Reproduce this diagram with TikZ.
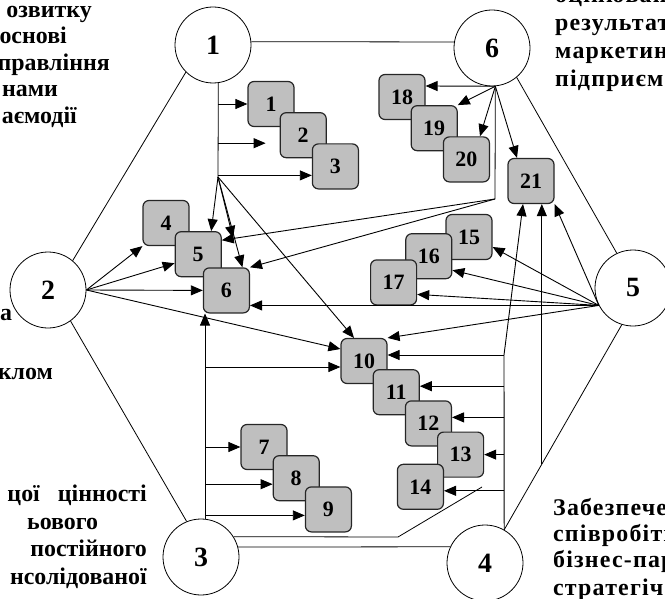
\documentclass[tikz,border=0pt]{standalone}
\usepackage{fontspec}
\setmainfont{Liberation Serif}
\newfontfamily\widefont[LetterSpace=5]{Liberation Serif}
\usepackage{tikz}
\usetikzlibrary{arrows.meta,positioning,calc}
\tikzstyle{hub} = [circle, draw=black, line width=0.8bp, minimum size=76bp, inner sep=0pt, font=\fontsize{28}{28}\selectfont\bfseries]
\tikzstyle{cell} = [rectangle, rounded corners=6bp, draw=black!85, line width=1.2bp, fill=gray!50, minimum width=46bp, minimum height=45bp, inner sep=0pt, font=\fontsize{22}{22}\selectfont\bfseries]
\tikzstyle{arrow} = [-{Triangle[length=12bp,width=10bp]}, line width=0.9bp]
\tikzstyle{rim} = [line width=0.8bp]
\tikzstyle{frag} = [inner sep=0pt, font=\fontsize{24}{26}\selectfont\bfseries]
\tikzstyle{fragwide} = [inner sep=0pt, font=\fontsize{24}{26}\widefont\bfseries]

\begin{document}
\begin{tikzpicture}[x=1bp, y=-1bp]
\useasboundingbox (0,0) rectangle (665,599);

% six circles
\node[hub] (c1) at (213,45) {1};
\node[hub] (c6) at (492,48) {6};
\node[hub] (c2) at (48,290) {2};
\node[hub] (c5) at (633,288) {5};
\node[hub] (c3) at (201,557) {3};
\node[hub] (c4) at (485,563) {4};
\draw[rim] (c1.5) -- (c6.171);
\draw[rim] (c1.225) -- (c2.50);
\draw[rim] (c2.-54) -- (c3.112);
\draw[rim] (c3.15) -- (c4.155);
\draw[rim] (c4.60) -- (c5.-107);
\draw[rim] (c5.115) -- (c6.-50);

% boxes
\node[cell] (b1) at (271,104) {1};
\node[cell, below right=-15bp and -15bp of b1] (b2) {2};
\node[cell, below right=-15bp and -15bp of b2] (b3) {3};
\node[cell] (b4) at (166,223) {4};
\node[cell, below right=-15bp and -15bp of b4] (b5) {5};
\node[cell, below right=-10bp and -19bp of b5] (b6) {6};
\node[cell] (b7) at (264,447) {7};
\node[cell, below right=-15bp and -15bp of b7] (b8) {8};
\node[cell, below right=-15bp and -15bp of b8] (b9) {9};
\node[cell] (b10) at (364,361) {10};
\node[cell, below right=-15bp and -15bp of b10] (b11) {11};
\node[cell, below right=-15bp and -15bp of b11] (b12) {12};
\node[cell, below right=-15bp and -15bp of b12] (b13) {13};
\node[cell, below left=-14bp and -7bp of b13] (b14) {14};
\node[cell] (b15) at (469,237) {15};
\node[cell, below left=-27bp and -7bp of b15] (b16) {16};
\node[cell, below left=-20bp and -12bp of b16] (b17) {17};
\node[cell] (b18) at (402,97) {18};
\node[cell, below right=-15bp and -15bp of b18] (b19) {19};
\node[cell, below right=-15bp and -15bp of b19] (b20) {20};
\node[cell] (b21) at (531,181) {21};

% from 1
\coordinate (f1) at (218,177);
\coordinate (p5) at (233,238);
\coordinate (t2) at ([yshift=-8bp]b2.west);
\coordinate (t3) at ([yshift=-9bp]b3.west);
\draw[rim] (c1.-82) -- (f1);
\draw[arrow] (f1 |- b1.west) -- (b1.west);
\draw[arrow, shorten >=14bp] (f1 |- t2) -- (t2);
\draw[arrow] (f1 |- t3) -- (t3);
\draw[arrow] (f1) -- ([xshift=13bp]b5.north);
\draw[arrow] (f1) -- (p5);
\draw[arrow] (f1) -- ([xshift=16bp]b6.north);
\draw[arrow] (f1) -- ([xshift=-10bp]b10.north);

% from 6
\coordinate (f6) at (c6.-85);
\coordinate (v6) at (495,199);
\draw[arrow] (f6) -- ([yshift=11bp]b18.east);
\draw[arrow] (f6) -- (b19.north east);
\draw[arrow] (f6) -- ([xshift=-10bp]b20.north east);
\draw[arrow] (f6) -- ([xshift=-14bp]b21.north);
\draw[rim] (f6) -- (v6);
\draw[arrow] (v6) -- ([yshift=14bp]b5.east);
\draw[arrow] (v6) -- (b6.north east);

% from 2
\coordinate (f2) at (c2.east);
\draw[arrow] (f2) -- (b4.south west);
\draw[arrow] (f2) -- ([yshift=-9bp]b5.west);
\draw[arrow] (f2) -- (b6.west);
\draw[arrow] (f2) -- ([yshift=12bp]b10.west);

% from 3
\coordinate (v3) at (c3.84);
\coordinate (t10) at ([yshift=-6bp]b10.west);
\coordinate (t8) at ([yshift=-6bp]b8.west);
\coordinate (t9) at ([yshift=-6bp]b9.west);
\draw[arrow] (v3) -- (v3 |- b6.south);
\draw[arrow] (v3 |- t10) -- (t10);
\draw[arrow] (v3 |- b7.west) -- (b7.west);
\draw[arrow] (v3 |- t8) -- (t8);
\draw[arrow] (v3 |- t9) -- (t9);

% from 4
\coordinate (k4) at (504,355);
\coordinate (t11) at ([yshift=6bp]b11.east);
\coordinate (t12) at ([yshift=6bp]b12.east);
\coordinate (t14) at ([yshift=-4bp]b14.east);
\draw[arrow] (c4.60) -- (k4) -- ([xshift=-8bp]b21.south);
\draw[arrow] (k4) -- (k4 -| b10.east);
\draw[arrow] (k4 |- t11) -- (t11);
\draw[arrow] (k4 |- t12) -- (t12);
\draw[arrow] (k4 |- b13.east) -- (b13.east);
\draw[arrow] (k4 |- t14) -- (t14);
\coordinate (k3) at (398,537);
\coordinate (j14) at (482,487);
\draw[rim] (c3.32) -- (k3) -- (j14);
\coordinate (e54) at ($(c5.-107)!0.68!(c4.60)$);
\draw[arrow] (e54) -- (e54 |- b21.south);

% from 5
\coordinate (f5) at (c5.207);
\draw[arrow] (f5) -- (b21.south east);
\draw[arrow] (f5) -- ([yshift=-10bp]b15.east);
\draw[arrow] (f5) -- ([yshift=-14bp]b16.east);
\draw[arrow] (f5) -- ([yshift=-12bp]b17.east);
\draw[arrow] (f5) -- (f5 -| b6.east);
\draw[arrow] (f5) -- (b10.north east);

% text at the edges
\node[frag, anchor=base east] (tl1) at (92,17.5) {озвитку};
\node[frag, anchor=base east] (tl2) at (67,44) {основі};
\node[frag, anchor=base east] (tl3) at (110,70.5) {правління};
\node[frag, anchor=base west] (tl4) at (2,97) {нами};
\node[frag, anchor=base east] (tl5) at (77,123.5) {аємодії};
\node[frag, anchor=base west] (lm1) at (0,320.5) {а};
\node[frag, anchor=base east] (lm2) at (53,379.5) {клом};
\node[frag, anchor=base east] (bl1) at (147,501.5) {цої\hspace{18bp}цінності};
\node[frag, anchor=base west] (bl2) at (27,529.5) {ьового};
\node[frag, anchor=base east] (bl3) at (147,556.5) {постійного};
\node[frag, anchor=base east] (bl4) at (147,584.5) {нсолідованої};
\node[fragwide, anchor=base west] (tr0) at (555,2.5) {оцінювання};
\node[fragwide, anchor=base west] (tr1) at (555,30.5) {результат};
\node[fragwide, anchor=base west] (tr2) at (555,58.5) {маркетин};
\node[fragwide, anchor=base west] (tr3) at (555,86.5) {підприємс};
\node[fragwide, anchor=base west] (br1) at (553,515) {Забезпече};
\node[fragwide, anchor=base west] (br2) at (553,541) {співробітн};
\node[fragwide, anchor=base west] (br3) at (553,567) {бізнес-пар};
\node[fragwide, anchor=base west] (br4) at (553,595) {стратегічн};
\end{tikzpicture}
\end{document}
